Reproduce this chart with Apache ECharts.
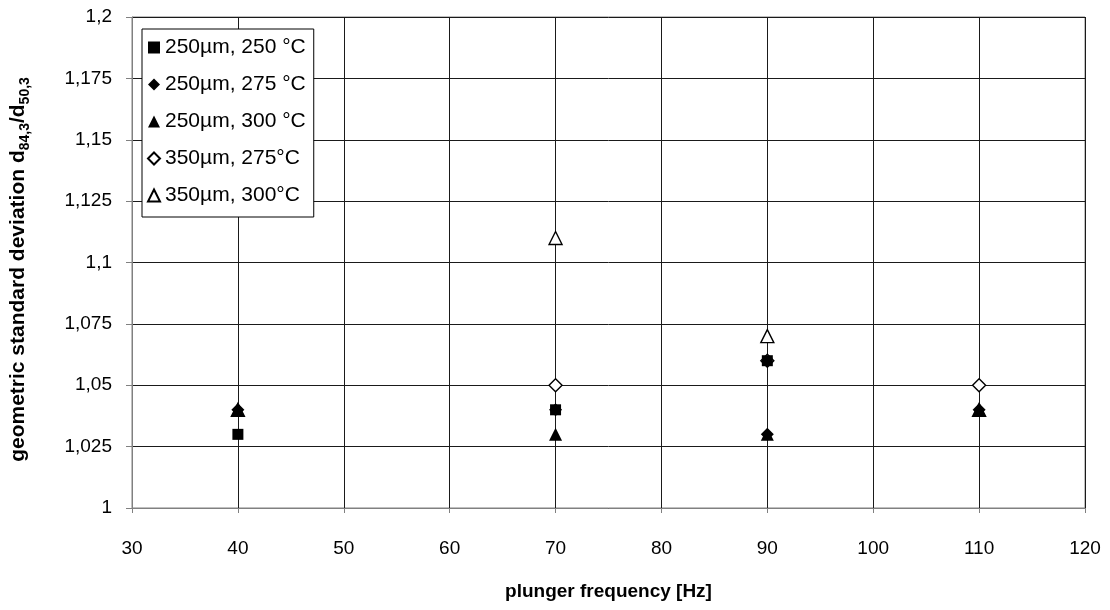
<!DOCTYPE html>
<html><head><meta charset="utf-8">
<script src="https://cdn.jsdelivr.net/npm/echarts@6/dist/echarts.min.js"></script>
<style>html,body{margin:0;padding:0;background:#fff}#c{width:1110px;height:610px}</style>
</head><body><div id="c"></div>
<script>
const seriesNames = ['250µm, 250 °C','250µm, 275 °C','250µm, 300 °C','350µm, 275°C','350µm, 300°C'];
const s1 = [[40,1.03],[70,1.04],[90,1.06]];
const s2 = [[40,1.04],[70,1.04],[90,1.03],[110,1.04]];
const s3 = [[40,1.04],[70,1.03],[90,1.03],[110,1.04]];
const s4 = [[70,1.05],[90,1.06],[110,1.05]];
const s5 = [[40,1.04],[70,1.11],[90,1.07],[110,1.04]];
const xTicks = [30,40,50,60,70,80,90,100,110,120];
const yTicks = [1,1.025,1.05,1.075,1.1,1.125,1.15,1.175,1.2];

const font = 'Arial, "Liberation Sans", sans-serif';
function ser(name, data, symbol, size, filled){
  return {name, type:'scatter', data, symbol, symbolSize:size,
    itemStyle:{color: filled ? '#000' : '#fff', borderColor:'#000', borderWidth: filled?0:1.4, opacity:1}};
}
const chart = echarts.init(document.getElementById('c'));
chart.setOption({
  animation:false,
  textStyle:{fontFamily:font},
  grid:{left:130, right:25, top:17, bottom:102, show:true, borderColor:'#808080', borderWidth:1},
  legend:{orient:'vertical', left:142, top:29, padding:[8,8,11,5], itemGap:16, itemTextGap:11,
    backgroundColor:'#fff', borderColor:'#000', borderWidth:1,
    itemWidth:12, itemHeight:12, textStyle:{fontSize:21, color:'#000', fontFamily:font},
    data: seriesNames},
  xAxis:{type:'value', min:xTicks[0], max:xTicks[xTicks.length-1], interval:10,
    axisLine:{show:true, lineStyle:{color:'#808080'}},
    axisTick:{show:true, inside:false, length:5, lineStyle:{color:'#808080'}},
    axisLabel:{fontSize:19, color:'#000', margin:31},
    splitLine:{show:true, lineStyle:{color:'#1a1a1a', width:1}},
    name:'plunger frequency [Hz]', nameLocation:'middle', nameGap:74,
    nameTextStyle:{fontSize:19, fontWeight:'bold', color:'#000'}},
  yAxis:{type:'value', min:yTicks[0], max:yTicks[yTicks.length-1], interval:0.025,
    axisLine:{show:true, lineStyle:{color:'#808080'}},
    axisTick:{show:true, inside:false, length:6, lineStyle:{color:'#808080'}},
    axisLabel:{fontSize:19, color:'#000', margin:20, formatter:v=>String(+v.toFixed(3)).replace('.',',')},
    splitLine:{show:true, lineStyle:{color:'#1a1a1a', width:1}},
    name:'{a|geometric standard deviation d}{s|84,3}{a|/d}{s|50,3}', nameLocation:'middle', nameGap:103, nameRotate:90,
    nameTextStyle:{color:'#000', padding:[0,0,0,-14], rich:{
      a:{fontSize:21, fontWeight:'bold', color:'#000', fontFamily:font, lineHeight:23, verticalAlign:'bottom'},
      s:{fontSize:14, fontWeight:'bold', color:'#000', fontFamily:font, lineHeight:16, verticalAlign:'bottom', padding:[0,0,-3,0]}
    }}},
  series:[
    ser(seriesNames[3], s4, 'diamond', 13, false),
    ser(seriesNames[4], s5, 'triangle', 13, false),
    ser(seriesNames[2], s3, 'triangle', 13, true),
    ser(seriesNames[1], s2, 'diamond', 13, true),
    ser(seriesNames[0], s1, 'rect', 11, true)
  ]
});
</script></body></html>
